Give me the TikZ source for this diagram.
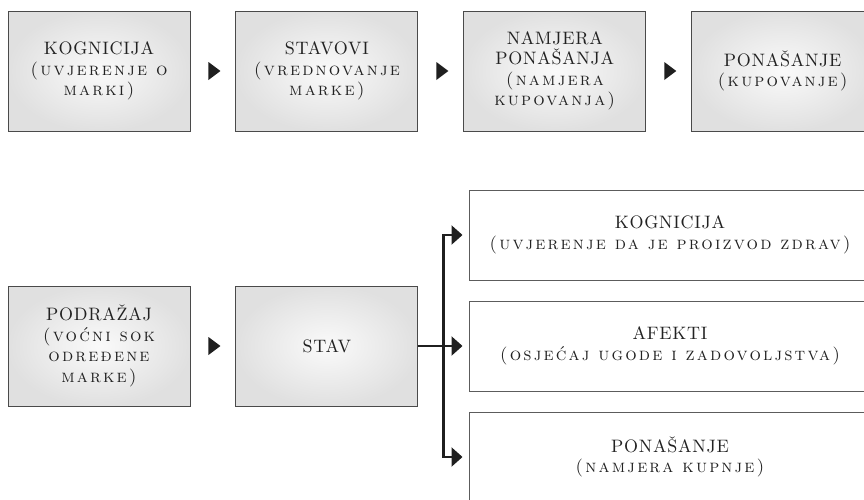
\documentclass[tikz,border=0pt]{standalone}
\usepackage{fontspec}
\setmainfont{lmroman10-regular.otf}[
  LetterSpace=4,
  SmallCapsFont=lmromancaps10-regular.otf,
  SmallCapsFeatures={LetterSpace=12}]
\usepackage{tikz}
\usetikzlibrary{positioning,arrows.meta,shapes.geometric}
\definecolor{okvir}{HTML}{4A4A4A}
\definecolor{tekst}{HTML}{222222}
\newcommand{\slova}{\fontsize{18}{20.5}\selectfont}
\newcommand{\mali}[1]{{\scshape #1}}

\begin{document}
\begin{tikzpicture}[x=1pt,y=1pt,
  node distance=45pt,
  kutija/.style={draw=okvir,line width=0.9pt,inner color=gray!4,outer color=gray!24,
            minimum width=182pt,minimum height=120pt,align=center,text=tekst,
            font=\slova,inner sep=2pt},
  polje/.style={draw=okvir!90,line width=1pt,fill=white,minimum width=402pt,
            minimum height=90pt,align=center,text=tekst,
            font=\slova,inner sep=2pt},
  trokut/.style={isosceles triangle,isosceles triangle stretches,shape border rotate=0,
            fill=black!88,inner sep=0pt,minimum width=18pt,minimum height=12pt},
  veza/.style={-{Triangle[length=11pt,width=19pt]},black!88,line width=2.3pt,shorten >=6pt}]
\useasboundingbox (0,0) rectangle (864,-499);
\clip (0,0) rectangle (864,-499);
% gornji niz
\node[kutija] (kog) at (99,-71) {KOGNICIJA\\\mali{(uvjerenje o}\\\mali{marki)}};
\node[kutija,right=of kog] (stavovi) {STAVOVI\\\mali{(vrednovanje}\\\mali{marke)}};
\node[kutija,right=of stavovi] (namjera) {NAMJERA\\PONAŠANJA\\\mali{(namjera}\\\mali{kupovanja)}};
\node[kutija,right=of namjera] (ponasanje) {PONAŠANJE\\\mali{(kupovanje)}};
\path (kog) -- node[trokut] (t1) {} (stavovi);
\path (stavovi) -- node[trokut] (t2) {} (namjera);
\path (namjera) -- node[trokut] (t3) {} (ponasanje);
% donji niz
\node[kutija] (podrazaj) at (99,-346) {PODRAŽAJ\\\mali{(voćni sok}\\\mali{određene}\\\mali{marke)}};
\node[kutija,right=of podrazaj] (stav) {STAV};
\path (podrazaj) -- node[trokut] (t4) {} (stav);
\node[polje] (kog2) at (670,-235) {KOGNICIJA\\\mali{(uvjerenje da je proizvod zdrav)}};
\node[polje,below=20pt of kog2] (afekti) {AFEKTI\\\mali{(osjećaj ugode i zadovoljstva)}};
\node[polje,below=20pt of afekti] (kupnja) {PONAŠANJE\\\mali{(namjera kupnje)}};
\coordinate (grana) at ([xshift=25pt]stav.east);
\draw[veza] (stav.east) -- (stav.east -| afekti.west);
\draw[veza] (grana) |- (kog2.west);
\draw[veza] (grana) |- (kupnja.west);
\end{tikzpicture}
\end{document}
